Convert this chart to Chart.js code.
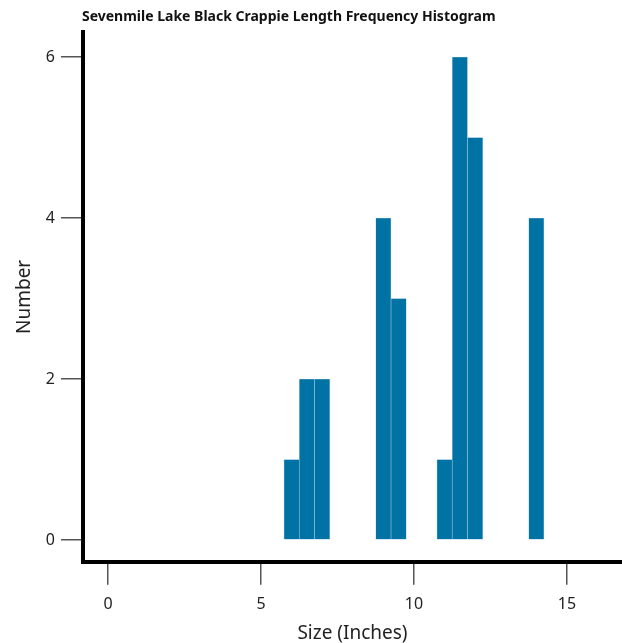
<!DOCTYPE html>
<html>
<head>
<meta charset="utf-8">
<script src="https://cdn.jsdelivr.net/npm/chart.js@4/dist/chart.umd.min.js"></script>
<style>
  html, body { margin: 0; padding: 0; background: #fff; }
  #wrap { width: 622px; height: 643px; }
</style>
</head>
<body>
<div id="wrap"><canvas id="myChart" width="622" height="643"></canvas></div>
<script>
// length bins (inches) and fish counts
var sizes = [6, 6.5, 7, 9, 9.5, 11, 11.5, 12, 14];
var counts = [1, 2, 2, 4, 3, 1, 6, 5, 4];
var xTicks = [0, 5, 10, 15];
var yTicks = [0, 2, 4, 6];
var chartTitle = "Sevenmile Lake Black Crappie Length Frequency Histogram";

var fuente = "'Noto Sans', 'Open Sans', sans-serif";

// titulo alineado con el borde izquierdo del area del grafico
var tituloPlugin = {
  id: 'tituloPlugin',
  afterDraw: function (chart) {
    var ctx = chart.ctx;
    ctx.save();
    ctx.font = "bold 14px " + fuente;
    ctx.fillStyle = "#111";
    ctx.textBaseline = "middle";
    ctx.fillText(chartTitle, chart.chartArea.left - 1, 17);
    ctx.restore();
  }
};

var puntos = sizes.map(function (s, i) { return { x: s, y: counts[i] }; });

var ctx = document.getElementById('myChart').getContext('2d');
var myChart = new Chart(ctx, {
  type: 'bar',
  data: {
    datasets: [{
      data: puntos,
      backgroundColor: '#0072a3',
      borderColor: 'rgba(110,170,205,0.5)',
      borderWidth: 0.6,
      borderSkipped: false,
      barPercentage: 1,
      categoryPercentage: 1
    }]
  },
  plugins: [tituloPlugin],
  options: {
    responsive: false,
    animation: false,
    layout: { padding: { top: 32, right: 0, left: 13, bottom: 0 } },
    plugins: {
      legend: { display: false },
      tooltip: { enabled: false },
      title: { display: false }
    },
    scales: {
      x: {
        type: 'linear',
        offset: false,
        min: -0.82,
        max: 16.8,
        afterBuildTicks: function (scale) {
          scale.ticks = xTicks.map(function (v) { return { value: v }; });
        },
        grid: { display: true, offset: false, drawOnChartArea: false, drawTicks: true, tickLength: 23, color: '#555', lineWidth: 1.5 },
        border: { display: true, color: '#000', width: 4 },
        ticks: { color: '#222', font: { family: fuente, size: 16 }, padding: 10, maxRotation: 0 },
        title: { display: true, text: 'Size (Inches)', color: '#222', font: { family: fuente, size: 19, lineHeight: 1.0 }, padding: { top: 0, bottom: 0 } }
      },
      y: {
        type: 'linear',
        min: -0.27,
        max: 6.31,
        afterBuildTicks: function (scale) {
          scale.ticks = yTicks.map(function (v) { return { value: v }; });
        },
        grid: { display: true, drawOnChartArea: false, drawTicks: true, tickLength: 22, color: '#555', lineWidth: 1.5 },
        border: { display: true, color: '#000', width: 4 },
        ticks: { color: '#222', font: { family: fuente, size: 16 }, padding: 6 },
        title: { display: true, text: 'Number', color: '#222', font: { family: fuente, size: 19 }, padding: { top: 0, bottom: 4 } }
      }
    }
  }
});
</script>
</body>
</html>
